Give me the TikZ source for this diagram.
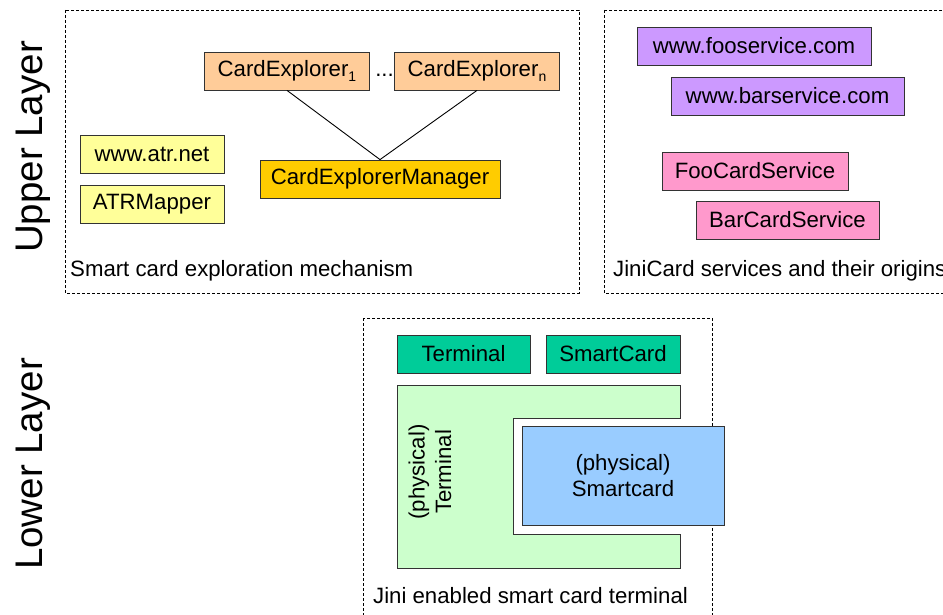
\documentclass[tikz,border=0pt]{standalone}
\usepackage{fontspec}
\setmainfont{Liberation Sans}
\usepackage{tikz}

\definecolor{peach}{HTML}{FFCC99}
\definecolor{gold}{HTML}{FFCC00}
\definecolor{paleyellow}{HTML}{FFFF99}
\definecolor{lilac}{HTML}{CC99FF}
\definecolor{pink}{HTML}{FF99CC}
\definecolor{teal}{HTML}{00CC99}
\definecolor{palegreen}{HTML}{CCFFCC}
\definecolor{skyblue}{HTML}{99CCFF}

\newcommand{\lowidx}[1]{\raisebox{-5pt}{\fontsize{14}{14}\selectfont #1}}

\begin{document}
\begin{tikzpicture}[x=1pt,y=-1pt,
  box/.style={draw=black!80,line width=0.8pt,minimum height=38pt,inner sep=0pt,
    font=\fontsize{22.2}{26.5}\selectfont},
  txt/.style={font=\fontsize{22.2}{26.5}\selectfont,inner sep=0pt},
  layer/.style={font=\fontsize{38.5}{44}\selectfont,rotate=90,anchor=base,inner sep=0pt},
  group/.style={draw,line width=0.7pt,dash pattern=on 3pt off 2pt}]
\useasboundingbox (0,0) rectangle (943,615);
\clip (0,0) rectangle (943,615);

% layers
\node[layer] (upper) at (42,147) {Upper Layer};
\node[layer] (lower) at (42,464) {Lower Layer};

% exploration mechanism
\draw[group] (65,10) rectangle (579,293);
\node[box,fill=peach,minimum width=165pt] (ce1) at (287,71) {CardExplorer\lowidx{1}};
\node[txt] (dots) at (384.5,75) {...};
\node[box,fill=peach,minimum width=165pt] (cen) at (477,71) {CardExplorer\lowidx{n}};
\node[box,fill=gold,minimum width=240pt] (cem) at (380,179) {CardExplorerManager};
\node[box,fill=paleyellow,minimum width=144pt] (atrnet) at (152,154) {www.atr.net};
\node[box,fill=paleyellow,minimum width=144pt] (atrmap) at (152,204) {ATRMapper};
\draw[line width=0.9pt] (ce1.south) -- (cem.north);
\draw[line width=0.9pt] (cen.south) -- (cem.north);
\node[txt,anchor=base west] (mech) at (70,276) {Smart card exploration mechanism};

% services
\draw[group] (604,10) rectangle (960,293);
\node[box,fill=lilac,minimum width=234pt] (foo) at (754,46) {www.fooservice.com};
\node[box,fill=lilac,minimum width=233pt] (bar) at (787.5,96) {www.barservice.com};
\node[box,fill=pink,minimum width=186pt] (foocs) at (755,171) {FooCardService};
\node[box,fill=pink,minimum width=183pt] (barcs) at (787.5,220) {BarCardService};
\node[txt,anchor=base west] (serv) at (613,276) {JiniCard services and their origins};

% terminal
\draw[group] (363,318) rectangle (712,640);
\node[box,fill=teal,minimum width=133pt] (term) at (463.5,354) {Terminal};
\node[box,fill=teal,minimum width=134pt] (scard) at (613,354) {SmartCard};
\draw[fill=palegreen,draw=black!80,line width=0.8pt] (397,385) -- (680,385) -- (680,418)
  -- (513,418) -- (513,534) -- (680,534) -- (680,568) -- (397,568) -- cycle;
\node[txt,rotate=90,align=center] (pterm) at (430,472) {(physical)\\Terminal};
\node[box,fill=skyblue,minimum width=202pt,minimum height=99pt,align=center] (pcard)
  at (623,475.5) {(physical)\\Smartcard};
\node[txt,anchor=base west] (jini) at (373,603) {Jini enabled smart card terminal};
\end{tikzpicture}
\end{document}
